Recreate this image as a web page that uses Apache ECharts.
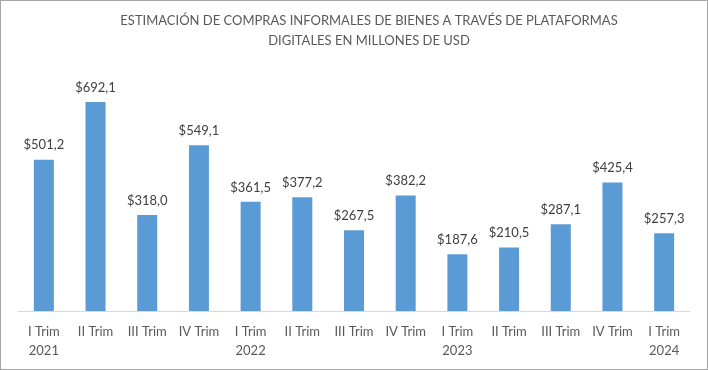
<!DOCTYPE html>
<html><head><meta charset="utf-8">
<script src="https://cdn.jsdelivr.net/npm/echarts@6/dist/echarts.min.js"></script>
<style>
html,body{margin:0;padding:0;background:#fff;}
#wrap{position:absolute;left:0;top:0;width:706px;height:368px;border:1px solid #a6a6a6;}
#chart{width:706px;height:368px;}
</style></head>
<body><div id="wrap"><div id="chart"></div></div>
<script>
const titleLines = ['ESTIMACIÓN DE COMPRAS INFORMALES DE BIENES A TRAVÉS DE PLATAFORMAS', 'DIGITALES EN MILLONES DE USD'];
const categories = ['I Trim\n2021','II Trim','III Trim','IV Trim','I Trim\n2022','II Trim','III Trim','IV Trim','I Trim\n2023','II Trim','III Trim','IV Trim','I Trim\n2024'];
const values = [501.2, 692.1, 318.0, 549.1, 361.5, 377.2, 267.5, 382.2, 187.6, 210.5, 287.1, 425.4, 257.3];
const yMax = 800;

const chart = echarts.init(document.getElementById('chart'));
const FONT = 'Lato';
chart.setOption({
  animation:false,
  graphic:[{type:'text',x:368,y:10,style:{text:titleLines.join('\n'),align:'center',verticalAlign:'top',
    font:'13px Lato',fill:'#595959',lineHeight:20}}],
  grid:{left:17,right:17,top:68.5,bottom:58},
  xAxis:{type:'category',data:categories,
    axisLine:{lineStyle:{color:'#d9d9d9',width:1}},axisTick:{show:false},
    axisLabel:{fontFamily:FONT,fontSize:13,color:'#595959',margin:11,lineHeight:19,interval:0}},
  yAxis:{type:'value',min:0,max:yMax,show:false,splitLine:{show:false}},
  series:[{type:'bar',data:values,barWidth:20,itemStyle:{color:'#5b9bd5'},
    label:{show:true,position:'top',distance:8,fontFamily:FONT,fontSize:13,color:'#404040',
      formatter:p=>'$'+p.value.toFixed(1).replace('.',',')}}]
});
</script></body></html>
